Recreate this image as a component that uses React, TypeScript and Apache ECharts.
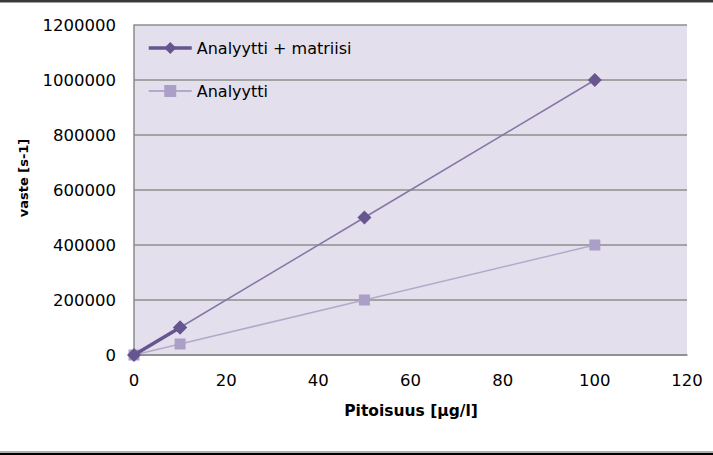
import React, { useEffect, useRef } from "react";
import * as echarts from "echarts";

const concentrations = [0, 10, 50, 100];
const matrixValues = [0, 100000, 500000, 1000000];
const analyteValues = [0, 40000, 200000, 400000];
const seriesNames = ["Analyytti + matriisi", "Analyytti"];
const xTitle = "Pitoisuus [µg/l]";
const yTitle = "vaste [s-1]";

export default function App() {
  const ref = useRef<HTMLDivElement>(null);
  useEffect(() => {
    document.body.style.margin = "0";
    const chart = echarts.init(ref.current!, null, { renderer: "svg" });
    const matrixPts = concentrations.map((c, i) => [c, matrixValues[i]]);
    const analytePts = concentrations.map((c, i) => [c, analyteValues[i]]);
    const dark = "#66558f";
    const darkLine = "#8575a8";
    const light = "#aa9fc6";
    const font = "DejaVu Sans";
    chart.setOption({
      animation: false,
      backgroundColor: "#ffffff",
      grid: { left: 134, right: 26, top: 25, bottom: 100, show: true, backgroundColor: "#e4dfec", borderWidth: 0 },
      legend: {
        orient: "vertical",
        left: 142,
        top: 35,
        itemWidth: 43,
        itemHeight: 15,
        itemGap: 27,
        data: [
          { name: seriesNames[0], lineStyle: { width: 3.5 } },
          { name: seriesNames[1] },
        ],
        textStyle: { fontFamily: font, fontSize: 16, color: "#000" },
      },
      xAxis: {
        type: "value",
        min: 0,
        max: 120,
        interval: 20,
        axisLine: { show: true, lineStyle: { color: "#8a8a8a", width: 1.5 } },
        axisTick: { show: false },
        splitLine: { show: false },
        axisLabel: { fontFamily: font, fontSize: 16.5, color: "#000", margin: 17 },
      },
      yAxis: {
        type: "value",
        min: 0,
        max: 1200000,
        interval: 200000,
        axisLine: { show: true, lineStyle: { color: "#8a8a8a", width: 1.5 } },
        axisTick: { show: false },
        splitLine: { show: true, lineStyle: { color: "#8e8e8e", width: 1.5 } },
        axisLabel: { fontFamily: font, fontSize: 16.5, color: "#000", margin: 18, formatter: (v: number) => String(v) },
      },
      series: [
        {
          name: seriesNames[1],
          type: "line",
          data: analytePts,
          symbol: "rect",
          symbolSize: 11,
          itemStyle: { color: light },
          lineStyle: { color: "#b3a9cc", width: 1.5 },
          z: 2,
        },
        {
          name: "matriisi-jatko",
          type: "line",
          data: matrixPts.slice(1),
          symbol: "diamond",
          symbolSize: 14,
          itemStyle: { color: dark },
          lineStyle: { color: darkLine, width: 1.5 },
          z: 3,
        },
        {
          name: seriesNames[0],
          type: "line",
          data: matrixPts.slice(0, 2),
          symbol: "diamond",
          symbolSize: 14,
          itemStyle: { color: dark },
          lineStyle: { color: dark, width: 3.5 },
          z: 4,
        },
      ],
      graphic: [
        { type: "rect", shape: { x: 0, y: 0, width: 713, height: 2 }, style: { fill: "#3a3a3a" } },
        { type: "rect", shape: { x: 0, y: 2, width: 713, height: 1 }, style: { fill: "#a0a0a0" } },
        { type: "rect", shape: { x: 0, y: 451, width: 713, height: 2 }, style: { fill: "#b0b0b0" } },
        { type: "rect", shape: { x: 0, y: 453, width: 713, height: 2 }, style: { fill: "#000000" } },
        {
          type: "text",
          x: 411,
          y: 411,
          style: { text: xTitle, fontFamily: font, fontSize: 15.5, fontWeight: "bold", fill: "#000", align: "center", verticalAlign: "middle" },
        },
        {
          type: "text",
          x: 23,
          y: 178,
          rotation: Math.PI / 2,
          style: { text: yTitle, fontFamily: font, fontSize: 13, fontWeight: "bold", fill: "#000", align: "center", verticalAlign: "middle" },
        },
      ],
    });
    return () => chart.dispose();
  }, []);
  return <div ref={ref} style={{ width: 713, height: 455 }} />;
}
